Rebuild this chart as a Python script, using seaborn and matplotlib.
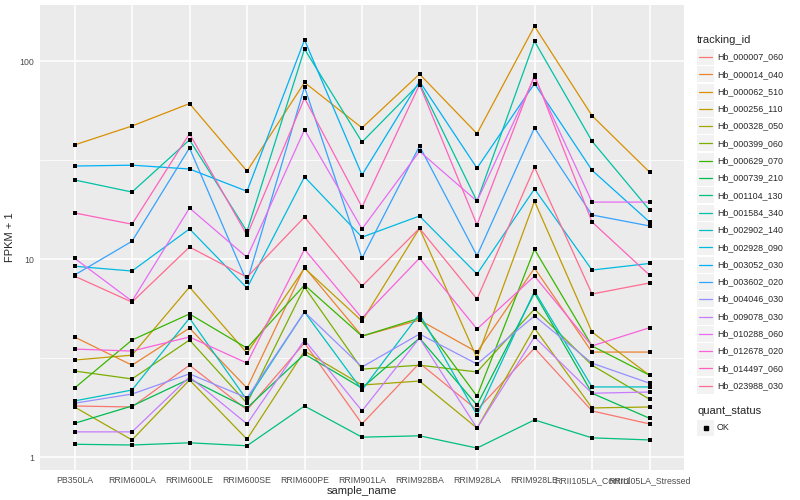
import matplotlib
matplotlib.use("Agg")
import matplotlib.pyplot as plt
from matplotlib.patches import Rectangle
from matplotlib.lines import Line2D
import seaborn as sns
import pandas as pd
import numpy as np

# sample order on the x axis
samples = ["PB350LA", "RRIM600LA", "RRIM600LE", "RRIM600SE", "RRIM600PE", "RRIM901LA",
           "RRIM928BA", "RRIM928LA", "RRIM928LE", "RRII105LA_Control", "RRII105LA_Stressed"]

tracking_ids = ["Hb_000007_060", "Hb_000014_040", "Hb_000062_510", "Hb_000256_110",
                "Hb_000328_050", "Hb_000399_060", "Hb_000629_070", "Hb_000739_210",
                "Hb_001104_130", "Hb_001584_340", "Hb_002902_140", "Hb_002928_090",
                "Hb_003052_030", "Hb_003602_020", "Hb_004046_030", "Hb_009078_030",
                "Hb_010288_060", "Hb_012678_020", "Hb_014497_060", "Hb_023988_030"]

# FPKM + 1 per sample
hb_000007_060 = [1.81, 1.79, 2.91, 1.73, 3.77, 1.47, 2.98, 1.73, 3.55, 1.71, 1.47]
hb_000014_040 = [4.04, 2.91, 4.48, 2.23, 9.1, 4.08, 4.92, 3.39, 9.0, 3.39, 3.39]
hb_000062_510 = [37.7, 47, 61, 27.8, 78, 46, 86, 43, 150, 53, 27.5]
hb_000256_110 = [3.09, 3.27, 7.22, 3.35, 9.0, 4.86, 14.3, 3.16, 19.6, 4.28, 2.59]
hb_000328_050 = [1.79, 1.22, 2.45, 1.23, 3.43, 2.31, 2.42, 1.40, 4.48, 1.77, 1.79]
hb_000399_060 = [2.72, 2.48, 3.90, 1.87, 7.22, 2.78, 2.91, 2.69, 5.59, 2.91, 1.96]
hb_000629_070 = [2.23, 3.90, 5.28, 3.55, 7.39, 4.08, 5.03, 2.03, 11.2, 3.64, 2.59]
hb_000739_210 = [1.48, 1.81, 2.48, 1.77, 3.31, 2.23, 3.99, 1.83, 6.73, 2.10, 1.57]
hb_001104_130 = [1.16, 1.15, 1.18, 1.14, 1.81, 1.26, 1.28, 1.11, 1.54, 1.25, 1.22]
hb_001584_340 = [25.1, 21.8, 40, 13.8, 115, 39, 77, 19.6, 126, 39.4, 17.7]
hb_002902_140 = [1.92, 2.18, 5.03, 1.94, 5.4, 2.18, 5.28, 1.63, 6.89, 2.26, 2.26]
hb_002928_090 = [9.2, 8.7, 14.2, 7.14, 26, 12.9, 16.5, 8.4, 22.6, 8.8, 9.5]
hb_003052_030 = [29.5, 29.8, 28.5, 22, 128, 26.6, 79, 28.8, 77, 28.1, 15.4]
hb_003602_020 = [8.3, 12.3, 36.4, 7.65, 74, 10.1, 37.2, 10.4, 46, 16.7, 14.7]
hb_004046_030 = [1.87, 2.08, 2.63, 1.99, 5.4, 2.85, 4.18, 2.95, 5.16, 2.98, 2.36]
hb_009078_030 = [1.34, 1.34, 2.54, 1.47, 3.90, 1.71, 3.99, 1.40, 4.04, 2.10, 2.13]
hb_010288_060 = [10.1, 6.13, 18.1, 10.2, 45, 14.2, 35, 19.6, 83, 19.4, 19.4]
hb_012678_020 = [3.51, 3.43, 4.04, 2.98, 11.2, 5.03, 10.1, 4.43, 8.2, 3.64, 4.5]
hb_014497_060 = [17.1, 15, 43, 13.2, 65, 18.3, 76, 14.9, 85, 15.4, 8.3]
hb_023988_030 = [8.2, 6.06, 11.5, 8.1, 16.3, 7.3, 14.3, 6.28, 29.1, 6.66, 7.57]

series = [hb_000007_060, hb_000014_040, hb_000062_510, hb_000256_110, hb_000328_050,
          hb_000399_060, hb_000629_070, hb_000739_210, hb_001104_130, hb_001584_340,
          hb_002902_140, hb_002928_090, hb_003052_030, hb_003602_020, hb_004046_030,
          hb_009078_030, hb_010288_060, hb_012678_020, hb_014497_060, hb_023988_030]

# ggplot hue palette for 20 levels
colors = ["#F8766D", "#EA8331", "#D89000", "#C09B00", "#A3A500", "#7CAE00", "#39B600",
          "#00BB4E", "#00BF7D", "#00C1A3", "#00BFC4", "#00BAE0", "#00B0F6", "#35A2FF",
          "#9590FF", "#C77CFF", "#E76BF3", "#FA62DB", "#FF62BC", "#FF6C91"]

rows = []
for tid, vals in zip(tracking_ids, series):
    for s, v in zip(samples, vals):
        rows.append({"tracking_id": tid, "sample_name": s, "fpkm": v, "quant_status": "OK"})
df = pd.DataFrame(rows)
df["x"] = df["sample_name"].map({s: i for i, s in enumerate(samples)})

sns.set_style("darkgrid")
plt.rcParams["font.family"] = ["Liberation Sans", "DejaVu Sans"]

fig = plt.figure(figsize=(8, 5), dpi=100)
ax = fig.add_axes([40 / 800, 30 / 500, 644 / 800, 465 / 500])
ax.set_facecolor("#EBEBEB")

sns.lineplot(data=df, x="x", y="fpkm", hue="tracking_id", palette=dict(zip(tracking_ids, colors)),
             estimator=None, errorbar=None, sort=False, lw=0.9, legend=False, ax=ax)
sns.scatterplot(data=df, x="x", y="fpkm", color="black", marker="s", s=7, linewidth=0,
                legend=False, ax=ax, zorder=5)

ax.set_yscale("log")
ax.set_ylim(0.86, 192)
ax.set_xlim(-0.6, len(samples) - 0.4)

ax.set_yticks([1, 10, 100])
ax.set_yticklabels(["1", "10", "100"])
ax.set_yticks([10 ** 0.5, 10 ** 1.5], minor=True)
ax.yaxis.set_minor_formatter(matplotlib.ticker.NullFormatter())
ax.set_xticks(range(len(samples)))
ax.set_xticklabels(samples)

ax.grid(which="major", color="white", lw=1.1)
ax.grid(which="minor", axis="y", color="white", lw=0.55)
ax.tick_params(axis="both", which="major", length=2.8, width=0.8, color="#333333",
               labelsize=6.3, labelcolor="#4D4D4D", pad=1.5)
ax.tick_params(axis="y", which="minor", length=0)
for sp in ax.spines.values():
    sp.set_visible(False)

ax.set_xlabel("sample_name", fontsize=8, labelpad=1)
ax.set_ylabel("FPKM + 1", fontsize=8, labelpad=3)

# legend drawn in figure pixel coordinates
def fx(px):
    return px / 800

def fy(py):
    return 1 - py / 500

fig.text(fx(697), fy(40), "tracking_id", fontsize=8, va="center", ha="left")
for i, (tid, c) in enumerate(zip(tracking_ids, colors)):
    yc = 57 + i * 17.3
    fig.patches.append(Rectangle((fx(697), fy(yc + 8)), 17 / 800, 16 / 500,
                                 transform=fig.transFigure, facecolor="#F2F2F2",
                                 edgecolor="none"))
    fig.lines.append(Line2D([fx(699), fx(712)], [fy(yc), fy(yc)], color=c, lw=0.9,
                            transform=fig.transFigure))
    fig.text(fx(717), fy(yc), tid, fontsize=6.4, va="center", ha="left")

fig.text(fx(697), fy(411), "quant_status", fontsize=8, va="center", ha="left")
fig.patches.append(Rectangle((fx(697), fy(436)), 17 / 800, 16 / 500,
                             transform=fig.transFigure, facecolor="#F2F2F2", edgecolor="none"))
fig.lines.append(Line2D([fx(705.5)], [fy(428)], marker="s", markersize=2.6, color="black",
                        lw=0, transform=fig.transFigure))
fig.text(fx(717), fy(428), "OK", fontsize=6.4, va="center", ha="left")

fig.savefig("out.png", dpi=100)
